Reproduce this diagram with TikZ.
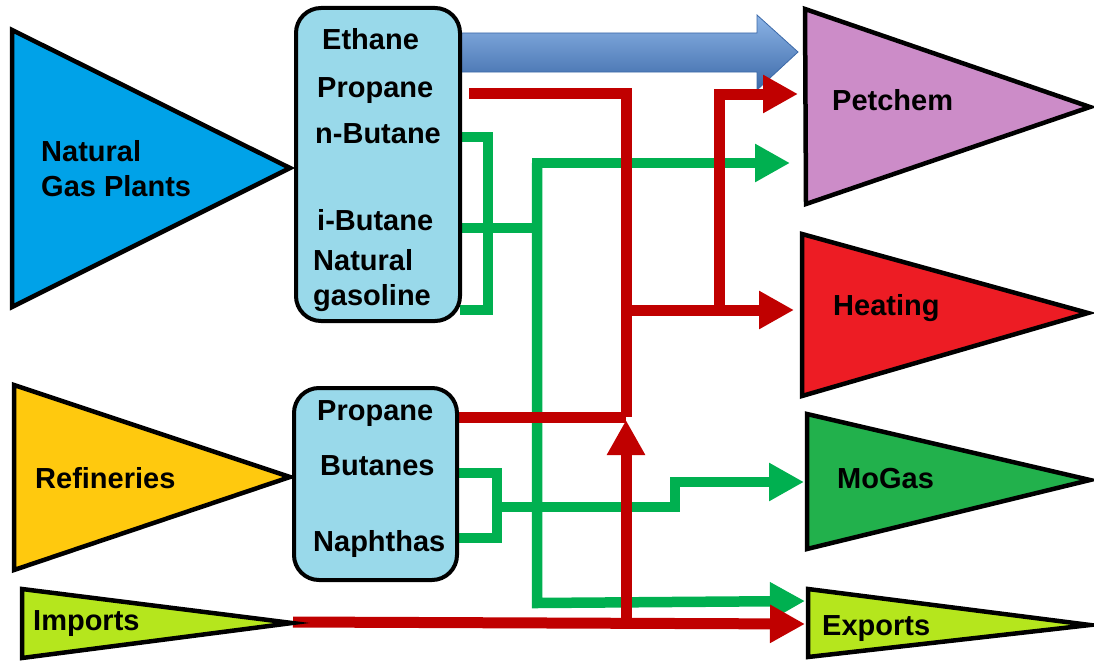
\documentclass[tikz,border=0pt]{standalone}
\usepackage{fontspec}
\setmainfont{Liberation Sans}
\usetikzlibrary{arrows.meta}
\definecolor{ngpblue}{HTML}{00A2E8}
\definecolor{boxblue}{HTML}{99D9EA}
\definecolor{refyellow}{HTML}{FFC90E}
\definecolor{limegreen}{HTML}{B5E61D}
\definecolor{petchemc}{HTML}{CC8CC8}
\definecolor{heatred}{HTML}{ED1C24}
\definecolor{mogasgreen}{HTML}{22B14C}
\definecolor{linered}{HTML}{C00000}
\definecolor{linegreen}{HTML}{00B050}
\definecolor{arrowlight}{HTML}{8CB4E6}
\definecolor{arrowmid}{HTML}{5283C4}
\definecolor{arrowdark}{HTML}{3C69A8}
\begin{document}
\begin{tikzpicture}[x=1pt,y=-1pt,
  tri/.style={draw=black, line width=4.5pt, line join=miter},
  box/.style={draw=black, line width=4pt, fill=boxblue, rounded corners=25pt, inner sep=0pt},
  lbl/.style={font=\fontsize{29}{31}\selectfont\bfseries, inner sep=0pt, anchor=base west},
  rline/.style={draw=linered, line width=11pt},
  gline/.style={draw=linegreen, line width=10.5pt},
  tip/.style={-{Triangle[length=35pt,width=36pt]}}]
\useasboundingbox (0,0) rectangle (1094,661);

% ---------- connector coordinates ----------
% blue arrow
\coordinate (b1) at (458,33); \coordinate (b2) at (757,33); \coordinate (b3) at (757,15);
\coordinate (b4) at (798,52); \coordinate (b5) at (757,90); \coordinate (b6) at (757,72);
\coordinate (b7) at (458,72);
% green NGL bracket
\coordinate (gnb) at (460,137); \coordinate (gnbc) at (488,137);
\coordinate (gng) at (460,310); \coordinate (gngc) at (488,310);
\coordinate (gib) at (460,228); \coordinate (gv) at (537,228);
\coordinate (gtop) at (537,163); \coordinate (gpet) at (790,163);
\coordinate (gbot) at (537,603); \coordinate (gexp) at (805,601);
% green refinery bracket
\coordinate (grb) at (457,473); \coordinate (grbc) at (497,473);
\coordinate (grn) at (457,538); \coordinate (grnc) at (497,538);
\coordinate (grm) at (497,507); \coordinate (gstep1) at (675,507);
\coordinate (gstep2) at (675,482); \coordinate (gmog) at (804,482);
% red
\coordinate (rp) at (469,93); \coordinate (rpc) at (626,93);
\coordinate (rj) at (626,417); \coordinate (rrp) at (457,417);
\coordinate (rh) at (626,310); \coordinate (rheat) at (794,310);
\coordinate (rb) at (719,310); \coordinate (rbt) at (719,94); \coordinate (rpet) at (798,94);
\coordinate (rimp) at (293,622); \coordinate (rexp) at (805,624);
\coordinate (rup) at (626,622); \coordinate (rupt) at (626,420);

% ---------- blue arrow ----------
\shade[top color=arrowlight, middle color=arrowmid, bottom color=arrowdark, draw=arrowdark, line width=0.8pt]
  (b1) -- (b2) -- (b3) -- (b4) -- (b5) -- (b6) -- (b7) -- cycle;

% ---------- green connectors ----------
\draw[gline] (gnb) -- (gnbc) -- (gngc) -- (gng);
\draw[gline] (gib) -- (gv);
\draw[gline, tip] (gbot) -- (gtop) -- (gpet);
\draw[gline, tip] (gtop) -- (gbot) -- (gexp);
\draw[gline] (grb) -- (grbc) -- (grnc) -- (grn);
\draw[gline, tip] (grm) -- (gstep1) -- (gstep2) -- (gmog);

% ---------- red connectors ----------
\draw[rline] (rp) -- (rpc) -- (rj);
\draw[rline] (rrp) -- (rj);
\draw[rline, tip] (rh) -- (rheat);
\draw[rline, tip] (rb) -- (rbt) -- (rpet);
\draw[rline, tip] (rimp) -- (rexp);
\draw[rline, tip] (rup) -- (rupt);

% ---------- sources ----------
\filldraw[tri, fill=ngpblue] (12,30) -- (290,168) -- (12,307) -- cycle;
\filldraw[tri, fill=refyellow] (14,385) -- (290,477) -- (14,570) -- cycle;
\filldraw[tri, fill=limegreen] (22,589) -- (292,623) -- (22,658) -- cycle;

\node[box, minimum width=164pt, minimum height=313pt] (ngl) at (378,164.5) {};
\node[box, minimum width=163pt, minimum height=192pt] (ref) at (375.5,484) {};

% ---------- sinks ----------
\filldraw[tri, fill=petchemc] (805,9) -- (1090,107) -- (806,204) -- cycle;
\filldraw[tri, fill=heatred] (802,234) -- (1088,313) -- (802,396) -- cycle;
\filldraw[tri, fill=mogasgreen] (807,414) -- (1090,480) -- (807,549) -- cycle;
\filldraw[tri, fill=limegreen] (808,589) -- (1090,625) -- (808,657) -- cycle;

% ---------- labels ----------
\node[lbl] (ngp1) at (41,161) {Natural};
\node[lbl] (ngp2) at (41,196) {Gas Plants};
\node[lbl] (ethane) at (322,50) {Ethane};
\node[lbl] (propane1) at (317,97) {Propane};
\node[lbl] (nbutane) at (315,143) {n-Butane};
\node[lbl] (ibutane) at (317,230) {i-Butane};
\node[lbl] (natgas1) at (313,270) {Natural};
\node[lbl] (natgas2) at (313,305) {gasoline};
\node[lbl] (refin) at (35,488) {Refineries};
\node[lbl] (propane2) at (317,420) {Propane};
\node[lbl] (butanes) at (320,475) {Butanes};
\node[lbl] (naphthas) at (313,551) {Naphthas};
\node[lbl] (imports) at (33,630) {Imports};
\node[lbl] (petchem) at (832,110) {Petchem};
\node[lbl] (heating) at (833,315) {Heating};
\node[lbl] (mogas) at (837,488) {MoGas};
\node[lbl] (exports) at (822,635) {Exports};
\end{tikzpicture}
\end{document}
